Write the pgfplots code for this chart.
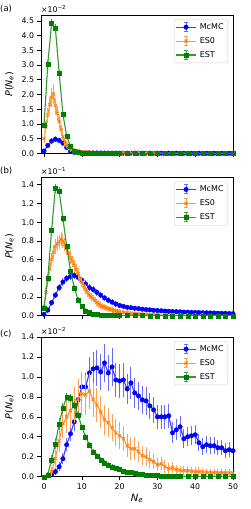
\documentclass[border=0pt]{standalone}
\usepackage{fontspec}
\setmainfont{DejaVu Sans}
\usepackage{pgfplots}
\pgfplotsset{compat=1.18}
\usepackage{pgfplotstable}
\definecolor{mpblue}{RGB}{0,0,255}
\definecolor{mporange}{RGB}{255,127,14}
\definecolor{mpgreen}{RGB}{0,128,0}
\definecolor{errblue}{RGB}{105,105,255}
\definecolor{errorange}{RGB}{255,160,80}
\definecolor{errgreen}{RGB}{70,160,70}
\definecolor{lineblue}{RGB}{60,60,255}
\definecolor{lineorange}{RGB}{255,150,60}
\definecolor{linegreen}{RGB}{50,150,50}

% ---------------- panel (a), units 1e-2 ----------------
\pgfplotstableread[row sep=\\]{
x y e\\
0 0.08 0.02\\ 1 0.27 0.03\\ 2 0.42 0.04\\ 3 0.48 0.04\\ 4 0.44 0.04\\ 5 0.35 0.03\\ 6 0.20 0.03\\ 7 0.07 0.02\\ 8 0.035 0.01\\ 9 0.025 0.01\\
10 0.020 0.01\\ 11 0.018 0.005\\ 12 0.017 0.005\\ 13 0.016 0.005\\ 14 0.015 0.005\\ 15 0.014 0.005\\ 16 0.013 0.004\\ 17 0.012 0.004\\ 18 0.012 0.004\\ 19 0.011 0.004\\
20 0.011 0.004\\ 21 0.010 0.003\\ 22 0.010 0.003\\ 23 0.010 0.003\\ 24 0.009 0.003\\ 25 0.009 0.003\\ 26 0.009 0.003\\ 27 0.008 0.003\\ 28 0.008 0.003\\ 29 0.008 0.003\\
30 0.008 0.003\\ 31 0.007 0.002\\ 32 0.007 0.002\\ 33 0.007 0.002\\ 34 0.007 0.002\\ 35 0.007 0.002\\ 36 0.006 0.002\\ 37 0.006 0.002\\ 38 0.006 0.002\\ 39 0.006 0.002\\
40 0.006 0.002\\ 41 0.006 0.002\\ 42 0.005 0.002\\ 43 0.005 0.002\\ 44 0.005 0.002\\ 45 0.005 0.002\\ 46 0.005 0.002\\ 47 0.005 0.002\\ 48 0.005 0.002\\ 49 0.005 0.002\\ 50 0.005 0.002\\
}\aMcMC
\pgfplotstableread[row sep=\\]{
x y e\\
0 0.50 0.10\\ 0.5 0.90 0.15\\ 1 1.30 0.20\\ 1.5 1.65 0.22\\ 2 1.90 0.25\\ 2.5 2.02 0.28\\ 3 1.62 0.22\\ 3.5 1.36 0.18\\ 4 1.08 0.15\\ 4.5 0.80 0.12\\
5 0.57 0.10\\ 5.5 0.40 0.08\\ 6 0.29 0.06\\ 6.5 0.21 0.05\\ 7 0.16 0.04\\ 7.5 0.13 0.03\\ 8 0.10 0.03\\ 8.5 0.085 0.02\\ 9 0.07 0.02\\ 9.5 0.06 0.02\\
10 0.05 0.015\\ 10.5 0.045 0.01\\ 11 0.04 0.01\\ 11.5 0.035 0.01\\ 12 0.03 0.01\\ 12.5 0.027 0.01\\ 13 0.024 0.01\\ 13.5 0.022 0.008\\ 14 0.020 0.008\\ 14.5 0.019 0.008\\
15 0.018 0.007\\ 15.5 0.017 0.007\\ 16 0.016 0.006\\ 16.5 0.015 0.006\\ 17 0.014 0.006\\ 17.5 0.013 0.005\\ 18 0.013 0.005\\ 18.5 0.012 0.005\\ 19 0.012 0.005\\ 19.5 0.011 0.004\\
20 0.011 0.004\\ 21 0.010 0.004\\ 22 0.009 0.004\\ 23 0.009 0.003\\ 24 0.008 0.003\\ 25 0.008 0.003\\ 26 0.007 0.003\\ 27 0.007 0.003\\ 28 0.006 0.003\\ 29 0.006 0.002\\
30 0.005 0.002\\ 32 0.005 0.002\\ 34 0.004 0.002\\ 36 0.004 0.002\\ 38 0.004 0.002\\ 40 0.003 0.002\\ 42 0.003 0.002\\ 44 0.003 0.002\\ 46 0.003 0.002\\ 48 0.003 0.002\\ 50 0.003 0.002\\
}\aESO
\pgfplotstableread[row sep=\\]{
x y e\\
0 0.96 0.05\\ 1 3.04 0.06\\ 2 4.42 0.07\\ 3 4.25 0.07\\ 4 2.74 0.05\\ 5 1.33 0.04\\ 6 0.59 0.03\\ 7 0.24 0.02\\ 8 0.09 0.01\\ 9 0.04 0.01\\
10 0.020 0.005\\ 11 0.012 0.004\\ 12 0.008 0.003\\ 13 0.005 0.002\\ 14 0.004 0.002\\ 15 0.003 0.001\\ 16 0.002 0.001\\ 17 0.002 0.001\\ 18 0.002 0.001\\ 19 0.001 0.001\\
20 0.001 0.001\\ 22 0.001 0.001\\ 24 0.001 0.001\\ 26 0.001 0.001\\ 28 0.001 0.001\\ 30 0.001 0.001\\ 32 0.000 0.000\\ 34 0.000 0.000\\ 36 0.000 0.000\\ 38 0.000 0.000\\
40 0.000 0.000\\ 42 0.000 0.000\\ 44 0.000 0.000\\ 46 0.000 0.000\\ 48 0.000 0.000\\ 50 0.000 0.000\\
}\aEST

% ---------------- panel (b), units 1e-1 ----------------
\pgfplotstableread[row sep=\\]{
x y e\\
0 0.015 0.005\\ 1 0.06 0.01\\ 2 0.14 0.015\\ 3 0.22 0.015\\ 4 0.30 0.02\\ 5 0.36 0.02\\ 6 0.40 0.02\\ 7 0.42 0.02\\ 8 0.43 0.02\\ 9 0.41 0.02\\
10 0.38 0.02\\ 11 0.34 0.02\\ 12 0.30 0.02\\ 13 0.28 0.02\\ 14 0.25 0.02\\ 15 0.22 0.015\\ 16 0.19 0.015\\ 17 0.165 0.015\\ 18 0.145 0.012\\ 19 0.125 0.012\\
20 0.11 0.01\\ 21 0.10 0.01\\ 22 0.09 0.01\\ 23 0.085 0.01\\ 24 0.08 0.01\\ 25 0.075 0.008\\ 26 0.07 0.008\\ 27 0.065 0.008\\ 28 0.062 0.008\\ 29 0.058 0.008\\
30 0.055 0.007\\ 31 0.052 0.007\\ 32 0.049 0.007\\ 33 0.047 0.007\\ 34 0.045 0.006\\ 35 0.043 0.006\\ 36 0.041 0.006\\ 37 0.039 0.006\\ 38 0.038 0.006\\ 39 0.036 0.006\\
40 0.035 0.005\\ 41 0.034 0.005\\ 42 0.032 0.005\\ 43 0.031 0.005\\ 44 0.030 0.005\\ 45 0.029 0.005\\ 46 0.027 0.005\\ 47 0.026 0.005\\ 48 0.025 0.005\\ 49 0.023 0.005\\ 50 0.022 0.005\\
}\bMcMC
\pgfplotstableread[row sep=\\]{
x y e\\
0 0.10 0.03\\ 0.5 0.25 0.04\\ 1 0.38 0.05\\ 1.5 0.50 0.05\\ 2 0.60 0.05\\ 2.5 0.68 0.06\\ 3 0.74 0.06\\ 3.5 0.77 0.06\\ 4 0.79 0.06\\ 4.5 0.82 0.06\\
5 0.80 0.06\\ 5.5 0.76 0.05\\ 6 0.72 0.05\\ 6.5 0.67 0.05\\ 7 0.62 0.05\\ 7.5 0.58 0.04\\ 8 0.54 0.04\\ 8.5 0.49 0.04\\ 9 0.45 0.04\\ 9.5 0.40 0.03\\
10 0.36 0.03\\ 10.5 0.32 0.03\\ 11 0.28 0.03\\ 11.5 0.25 0.03\\ 12 0.22 0.02\\ 12.5 0.20 0.02\\ 13 0.18 0.02\\ 13.5 0.16 0.02\\ 14 0.14 0.02\\ 14.5 0.125 0.02\\
15 0.11 0.015\\ 15.5 0.10 0.015\\ 16 0.09 0.015\\ 16.5 0.082 0.012\\ 17 0.075 0.012\\ 17.5 0.068 0.01\\ 18 0.062 0.01\\ 18.5 0.057 0.01\\ 19 0.052 0.01\\ 19.5 0.048 0.01\\
20 0.044 0.008\\ 21 0.037 0.008\\ 22 0.031 0.007\\ 23 0.026 0.006\\ 24 0.022 0.006\\ 25 0.019 0.005\\ 26 0.016 0.005\\ 27 0.014 0.004\\ 28 0.012 0.004\\ 29 0.011 0.004\\
30 0.010 0.003\\ 32 0.008 0.003\\ 34 0.007 0.003\\ 36 0.006 0.002\\ 38 0.005 0.002\\ 40 0.004 0.002\\ 42 0.004 0.002\\ 44 0.003 0.002\\ 46 0.003 0.002\\ 48 0.002 0.001\\ 50 0.002 0.001\\
}\bESO
\pgfplotstableread[row sep=\\]{
x y e\\
0 0.086 0.01\\ 1 0.40 0.02\\ 2 0.91 0.02\\ 3 1.365 0.03\\ 4 1.33 0.03\\ 5 1.04 0.02\\ 6 0.74 0.02\\ 7 0.48 0.02\\ 8 0.30 0.01\\ 9 0.17 0.01\\
10 0.10 0.01\\ 11 0.054 0.005\\ 12 0.035 0.005\\ 13 0.020 0.003\\ 14 0.012 0.002\\ 15 0.008 0.002\\ 16 0.005 0.001\\ 17 0.004 0.001\\ 18 0.003 0.001\\ 19 0.002 0.001\\
20 0.002 0.001\\ 22 0.001 0.001\\ 24 0.001 0.001\\ 26 0.001 0.000\\ 28 0.000 0.000\\ 30 0.000 0.000\\ 32 0.000 0.000\\ 34 0.000 0.000\\ 36 0.000 0.000\\ 38 0.000 0.000\\
40 0.000 0.000\\ 42 0.000 0.000\\ 44 0.000 0.000\\ 46 0.000 0.000\\ 48 0.000 0.000\\ 50 0.000 0.000\\
}\bEST

% ---------------- panel (c), units 1e-2 ----------------
\pgfplotstableread[row sep=\\]{
x y e\\
2 0.02 0.01\\ 3 0.05 0.02\\ 4 0.10 0.03\\ 5 0.18 0.04\\ 6 0.32 0.05\\ 7 0.43 0.06\\ 8 0.55 0.07\\ 9 0.77 0.09\\
10 0.90 0.10\\ 11 0.90 0.12\\ 12 1.04 0.14\\ 13 1.08 0.15\\ 14 1.09 0.16\\ 15 1.05 0.16\\ 16 1.14 0.17\\ 17 1.04 0.16\\ 18 1.10 0.17\\ 19 0.97 0.15\\
20 0.96 0.15\\ 21 0.97 0.15\\ 22 0.88 0.13\\ 23 0.94 0.14\\ 24 0.84 0.13\\ 25 0.81 0.12\\ 26 0.77 0.12\\ 27 0.76 0.12\\ 28 0.71 0.11\\ 29 0.67 0.11\\
30 0.60 0.10\\ 31 0.60 0.10\\ 32 0.60 0.10\\ 33 0.61 0.10\\ 34 0.44 0.09\\ 35 0.47 0.09\\ 36 0.50 0.09\\ 37 0.38 0.08\\ 38 0.40 0.08\\ 39 0.41 0.08\\
40 0.42 0.08\\ 41 0.34 0.07\\ 42 0.30 0.07\\ 43 0.32 0.07\\ 44 0.31 0.07\\ 45 0.31 0.07\\ 46 0.29 0.06\\ 47 0.29 0.06\\ 48 0.26 0.06\\ 49 0.27 0.06\\ 50 0.26 0.06\\
}\cMcMC
\pgfplotstableread[row sep=\\]{
x y e\\
1 0.00 0.00\\ 2 0.05 0.03\\ 3 0.18 0.07\\ 4 0.36 0.10\\ 5 0.53 0.13\\ 6 0.60 0.14\\ 7 0.66 0.15\\ 8 0.72 0.16\\ 9 0.78 0.18\\
10 0.83 0.20\\ 11 0.82 0.18\\ 12 0.86 0.16\\ 13 0.77 0.15\\ 14 0.72 0.15\\ 15 0.65 0.14\\ 16 0.57 0.13\\ 17 0.54 0.13\\ 18 0.49 0.12\\ 19 0.44 0.12\\
20 0.41 0.12\\ 21 0.38 0.11\\ 22 0.31 0.10\\ 23 0.28 0.10\\ 24 0.28 0.10\\ 25 0.25 0.09\\ 26 0.21 0.08\\ 27 0.20 0.08\\ 28 0.17 0.07\\ 29 0.15 0.06\\
30 0.12 0.05\\ 31 0.13 0.05\\ 32 0.10 0.05\\ 33 0.08 0.04\\ 34 0.09 0.04\\ 35 0.07 0.03\\ 36 0.065 0.03\\ 37 0.06 0.03\\ 38 0.06 0.03\\ 39 0.055 0.03\\
40 0.05 0.03\\ 41 0.05 0.03\\ 42 0.048 0.02\\ 43 0.045 0.02\\ 44 0.045 0.02\\ 45 0.042 0.02\\ 46 0.04 0.02\\ 47 0.04 0.02\\ 48 0.04 0.02\\ 49 0.038 0.02\\ 50 0.04 0.02\\
}\cESO
\pgfplotstableread[row sep=\\]{
x y e\\
0 0.00 0.00\\ 1 0.02 0.01\\ 2 0.17 0.03\\ 3 0.33 0.04\\ 4 0.53 0.04\\ 5 0.69 0.03\\ 6 0.80 0.02\\ 7 0.79 0.02\\ 8 0.72 0.02\\ 9 0.62 0.02\\
10 0.50 0.01\\ 11 0.40 0.01\\ 12 0.32 0.01\\ 13 0.25 0.01\\ 14 0.21 0.01\\ 15 0.17 0.01\\ 16 0.14 0.01\\ 17 0.12 0.01\\ 18 0.10 0.01\\ 19 0.085 0.005\\
20 0.072 0.005\\ 21 0.060 0.005\\ 22 0.050 0.005\\ 23 0.042 0.004\\ 24 0.035 0.004\\ 25 0.030 0.003\\ 26 0.025 0.003\\ 27 0.020 0.003\\ 28 0.017 0.002\\ 29 0.014 0.002\\
30 0.012 0.002\\ 31 0.010 0.002\\ 32 0.009 0.001\\ 33 0.008 0.001\\ 34 0.007 0.001\\ 35 0.006 0.001\\ 36 0.005 0.001\\ 38 0.004 0.001\\ 40 0.003 0.001\\ 42 0.003 0.001\\
44 0.002 0.001\\ 46 0.002 0.001\\ 48 0.001 0.001\\ 50 0.001 0.001\\
}\cEST

\pgfplotsset{
  panel/.style={
    scale only axis, width=192pt, height=138.4pt,
    xmin=-0.8, xmax=50, ymin=0,
    clip mode=individual,
    axis line style={line width=0.6pt},
    tick align=outside, tick pos=left, major tick length=3.5pt,
    every tick/.style={black, line width=0.6pt},
    xtick={0,10,20,30,40,50},
    tick label style={font=\fontsize{7.8}{9}\selectfont},
    xticklabel style={/pgf/number format/assume math mode=true},
    yticklabel style={/pgf/number format/.cd, fixed, fixed zerofill, precision=1, assume math mode=true},
    ylabel={\textit{P}(\textit{N}\textsubscript{\textit{e}})},
    ylabel style={font=\fontsize{9.5}{11}\selectfont, at={(axis description cs:-0.165,0.5)}, anchor=center},
    legend style={at={(1,1)}, xshift=-5pt, yshift=-4pt, anchor=north east,
      draw=black!18, rounded corners=1.5pt, font=\fontsize{8}{9}\selectfont,
      inner sep=1pt, nodes={inner sep=3.2pt, text height=6pt, text depth=1.5pt}},
    legend cell align=left,
  },
  legerr/.style={legend image code/.code={
      \draw[#1, line width=1pt] (10pt,-4.5pt) -- (10pt,4.5pt)
        (8.3pt,-4.5pt) -- (11.7pt,-4.5pt) (8.3pt,4.5pt) -- (11.7pt,4.5pt);
      \draw[mark repeat=2, mark phase=2, ##1] plot coordinates {(0pt,0pt) (10pt,0pt) (20pt,0pt)};
  }},
  smc/.style={draw=lineblue, line width=1.1pt, mark=*, mark size=2.3pt,
    mark options={draw=mpblue, fill=mpblue, line width=0.3pt}, legerr=errblue,
    error bars/.cd, y dir=both, y explicit,
    error bar style={draw=errblue, line width=1pt},
    error mark options={draw=errblue, line width=1pt, mark size=1.7pt}},
  ses/.style={draw=lineorange, line width=1.1pt, mark=x, mark size=2.2pt,
    mark options={draw=mporange, line width=0.9pt}, legerr=errorange,
    error bars/.cd, y dir=both, y explicit,
    error bar style={draw=errorange, line width=1pt},
    error mark options={draw=errorange, line width=1pt, mark size=1.7pt}},
  sst/.style={draw=linegreen, line width=1.1pt, mark=square*, mark size=2pt,
    mark options={draw=mpgreen, fill=mpgreen, line width=0.3pt}, legerr=errgreen,
    error bars/.cd, y dir=both, y explicit,
    error bar style={draw=errgreen, line width=1pt},
    error mark options={draw=errgreen, line width=1pt, mark size=1.7pt}},
}

\begin{document}
\begin{tikzpicture}
\useasboundingbox (0pt,0pt) rectangle (250pt,-509pt);

% ---- (a)
\begin{axis}[panel, at={(41pt,-153.4pt)}, anchor=south west, ymax=4.7,
  ytick={0,0.5,...,4.5}, xticklabels={}]
\addplot[smc] table[x=x, y=y, y error=e] {\aMcMC};
\addplot[ses] table[x=x, y=y, y error=e] {\aESO};
\addplot[sst] table[x=x, y=y, y error=e] {\aEST};
\legend{McMC, ES0, EST}
\node[anchor=south west, font=\fontsize{7.8}{9}\selectfont, inner sep=0pt, yshift=2.5pt] at (rel axis cs:0,1) {×10\textsuperscript{−2}};
\node[anchor=base west, font=\fontsize{8.5}{9}\selectfont, inner sep=0pt, xshift=-41pt, yshift=4pt] at (rel axis cs:0,1) {(a)};
\end{axis}

% ---- (b)
\begin{axis}[panel, at={(41pt,-315.7pt)}, anchor=south west, ymax=1.48,
  ytick={0,0.2,...,1.4}, xticklabels={}]
\addplot[smc] table[x=x, y=y, y error=e] {\bMcMC};
\addplot[ses] table[x=x, y=y, y error=e] {\bESO};
\addplot[sst] table[x=x, y=y, y error=e] {\bEST};
\legend{McMC, ES0, EST}
\node[anchor=south west, font=\fontsize{7.8}{9}\selectfont, inner sep=0pt, yshift=2.5pt] at (rel axis cs:0,1) {×10\textsuperscript{−1}};
\node[anchor=base west, font=\fontsize{8.5}{9}\selectfont, inner sep=0pt, xshift=-41pt, yshift=4pt] at (rel axis cs:0,1) {(b)};
\end{axis}

% ---- (c)
\begin{axis}[panel, at={(41pt,-476.7pt)}, anchor=south west, height=139.7pt, ymax=1.4,
  ytick={0,0.2,...,1.4},
  xlabel={\textit{N}\textsubscript{\textit{e}}},
  xlabel style={font=\fontsize{10}{11}\selectfont, inner sep=1pt}]
\addplot[smc] table[x=x, y=y, y error=e] {\cMcMC};
\addplot[ses] table[x=x, y=y, y error=e] {\cESO};
\addplot[sst] table[x=x, y=y, y error=e] {\cEST};
\legend{McMC, ES0, EST}
\node[anchor=south west, font=\fontsize{7.8}{9}\selectfont, inner sep=0pt, yshift=2.5pt] at (rel axis cs:0,1) {×10\textsuperscript{−2}};
\node[anchor=base west, font=\fontsize{8.5}{9}\selectfont, inner sep=0pt, xshift=-41pt, yshift=1pt] at (rel axis cs:0,1) {(c)};
\end{axis}
\end{tikzpicture}
\end{document}
